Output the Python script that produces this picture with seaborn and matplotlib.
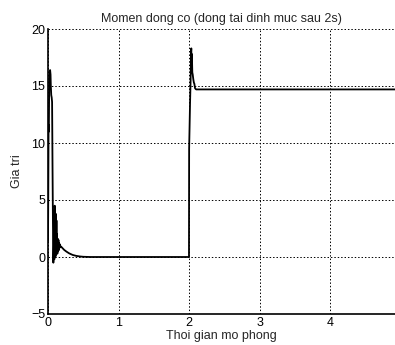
import numpy as np
import pandas as pd
import matplotlib
matplotlib.use("Agg")
import matplotlib.pyplot as plt
import seaborn as sns

# Time (s) and torque values
time = [0.0, 0.004, 0.008, 0.012, 0.018, 0.024, 0.030, 0.036, 0.040, 0.046,
        0.052, 0.058, 0.064, 0.070, 0.076, 0.082, 0.086, 0.090, 0.095, 0.100,
        0.104, 0.108, 0.112, 0.116, 0.120, 0.124, 0.128, 0.133, 0.138, 0.143,
        0.148, 0.153, 0.158, 0.164, 0.170, 0.178, 0.186, 0.195, 0.21, 0.23,
        0.26, 0.30, 0.35, 0.40, 0.45, 0.50, 0.55, 0.60, 1.0, 1.5, 1.999,
        2.001, 2.006, 2.014, 2.022, 2.028, 2.032, 2.036, 2.040, 2.046, 2.052,
        2.060, 2.068, 2.075, 2.085, 2.10, 2.5, 3.0, 3.5, 4.0, 4.5, 4.92]
torque = [1.4, 5.5, 11.6, 11.0, 15.8, 16.2, 16.4, 16.0, 15.0, 14.2,
          14.0, 13.6, 8.0, 3.0, -0.5, 1.0, 4.0, -0.2, 4.5, 4.2,
          0.0, 3.8, 2.5, 0.2, 3.2, 0.5, 2.0, 0.3, 1.6, 0.5,
          1.5, 0.6, 1.2, 0.8, 1.1, 0.9, 0.9, 0.85, 0.75, 0.62,
          0.48, 0.32, 0.18, 0.10, 0.05, 0.02, 0.01, 0.0, 0.0, 0.0, 0.0,
          9.5, 11.0, 13.5, 15.5, 18.0, 18.3, 16.5, 17.8, 16.2, 16.0,
          15.6, 15.3, 15.2, 14.8, 14.7, 14.7, 14.7, 14.7, 14.7, 14.7, 14.7]

x_ticks = [0, 1, 2, 3, 4]
y_ticks = [-5, 0, 5, 10, 15, 20]

title = "Momen dong co (dong tai dinh muc sau 2s)"
xlabel = "Thoi gian mo phong"
ylabel = "Gia tri"

sns.set_style("white")
plt.rcParams["font.family"] = ["Liberation Sans", "DejaVu Sans"]

df = pd.DataFrame({"t": time, "m": torque})

fig = plt.figure(figsize=(3.95, 3.45), dpi=100)
ax = fig.add_axes([48 / 395, 31 / 345, 1 - 48 / 395, 285 / 345])

sns.lineplot(data=df, x="t", y="m", ax=ax, color="black", linewidth=1.3,
             estimator=None, sort=False)

ax.set_xlim(0, 4.92)
ax.set_ylim(-5, 20)
ax.set_xticks(x_ticks)
ax.set_yticks(y_ticks)
ax.grid(True, color="black", linestyle=(0, (1.5, 2)), linewidth=0.7)
ax.set_axisbelow(True)

for s in ["top", "right"]:
    ax.spines[s].set_visible(False)
for s in ["left", "bottom"]:
    ax.spines[s].set_color("black")
    ax.spines[s].set_linewidth(1.2)

ax.tick_params(axis="both", direction="in", length=3, width=0.6, labelsize=9,
               colors="black", pad=2)
ax.set_title(title, fontsize=9, pad=5)
ax.set_xlabel(xlabel, fontsize=9, labelpad=1)
ax.set_ylabel(ylabel, fontsize=9, labelpad=6)

fig.savefig("out.png", dpi=100)
